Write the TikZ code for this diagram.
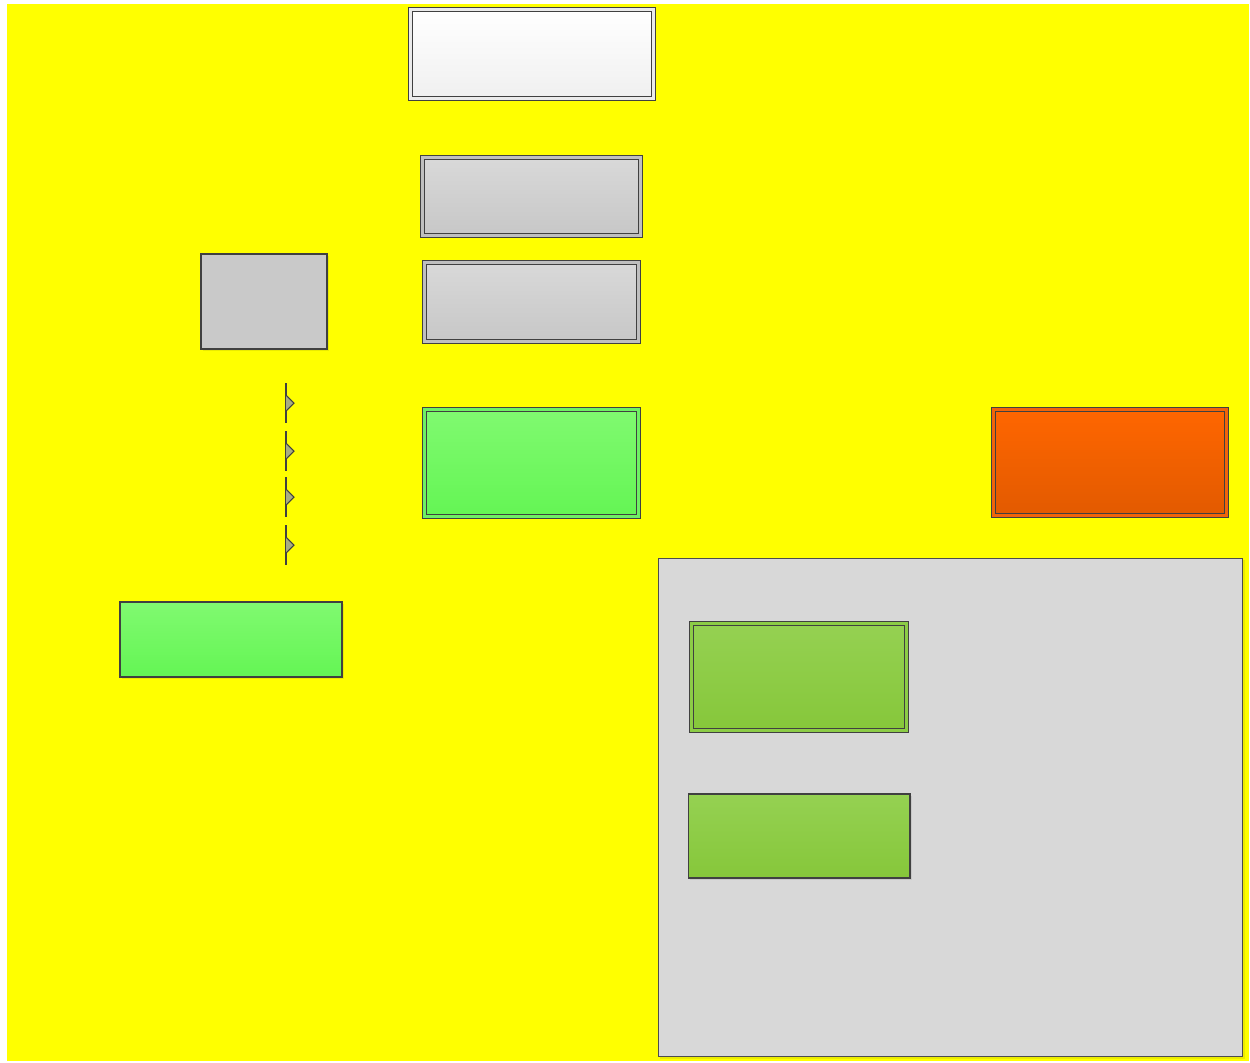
\documentclass[tikz,border=0pt]{standalone}
\usepackage{tikz}
\usetikzlibrary{
    shadows,
    positioning,
    calc
}
\definecolor{bgyellow}{HTML}{FFFF00}
\definecolor{framegray}{HTML}{404040}
\definecolor{panelgray}{HTML}{D8D8D8}
\definecolor{flaggray}{HTML}{A8AD80}
\definecolor{greentop}{RGB}{128,250,112}
\definecolor{greenbot}{RGB}{100,245,84}
\definecolor{greenrim}{RGB}{110,240,100}
\definecolor{orangetop}{RGB}{255,102,0}
\definecolor{orangebot}{RGB}{226,90,0}
\definecolor{orangerim}{RGB}{240,100,10}
\definecolor{leaftop}{RGB}{149,209,82}
\definecolor{leafbot}{RGB}{134,199,58}
\definecolor{leafrim}{RGB}{140,204,70}

\begin{document}
\begin{tikzpicture}[
        x=0.02cm,
        y=-0.02cm,
        line join=miter,
        box/.style={
            rectangle,
            inner sep=0pt,
            outer sep=0pt,
            draw=framegray,
            line width=0.6pt,
            drop shadow={shadow xshift=1.2pt,shadow yshift=-1.2pt,
                fill=black,opacity=0.08}
        },
        dbox/.style={
            box,
            double=#1,
            double distance=1.5pt
        },
        whitefill/.style={top color=white,bottom color=black!6},
        grayfill/.style={top color=black!15,bottom color=black!22},
        greenfill/.style={top color=greentop,bottom color=greenbot},
        orangefill/.style={top color=orangetop,bottom color=orangebot},
        leaffill/.style={top color=leaftop,bottom color=leafbot},
        flag/.style={draw=framegray,line width=0.6pt,fill=flaggray}
    ]

        % page and background
        \useasboundingbox (0,0) rectangle (1250,1062);
        \fill[bgyellow] (7,4) rectangle (1249,1061);

        % top column
        \node[dbox=black!8,whitefill,minimum width=4.87cm,minimum height=1.79cm]
            (header) at (532,54) {};
        \node[dbox=black!25,grayfill,minimum width=4.37cm,minimum height=1.57cm]
            (upper) at (531.5,196.5) {};
        \node[dbox=black!25,grayfill,minimum width=4.29cm,minimum height=1.59cm]
            (lower) at (531.5,302) {};
        \node[dbox=greenrim,greenfill,minimum width=4.29cm,minimum height=2.15cm]
            (core) at (531.5,463) {};

        % left side
        \node[box,fill=black!21,minimum width=2.52cm,minimum height=1.9cm]
            (side) at (264,301.5) {};
        \node[box,greenfill,minimum width=4.44cm,minimum height=1.5cm]
            (base) at (231,639.5) {};

        % flags
        \foreach \y in {403,451,497,545} {
            \draw[framegray,line width=0.6pt] (286,\y-20) -- (286,\y+20);
            \draw[flag] (286,\y-8) -- (294,\y) -- (286,\y+8);
        }

        % right side
        \node[dbox=orangerim,orangefill,minimum width=4.67cm,minimum height=2.13cm]
            (alert) at (1110,462.5) {};

        % grey panel with its two boxes
        \node[box,fill=panelgray,draw=black!70,minimum width=11.7cm,minimum height=9.98cm]
            (panel) at (950.5,807.5) {};
        \node[dbox=leafrim,leaffill,minimum width=4.31cm,minimum height=2.15cm]
            (leafa) at (799,677) {};
        \node[box,leaffill,minimum width=4.44cm,minimum height=1.68cm]
            (leafb) at (799,836) {};

    \end{tikzpicture}
\end{document}
